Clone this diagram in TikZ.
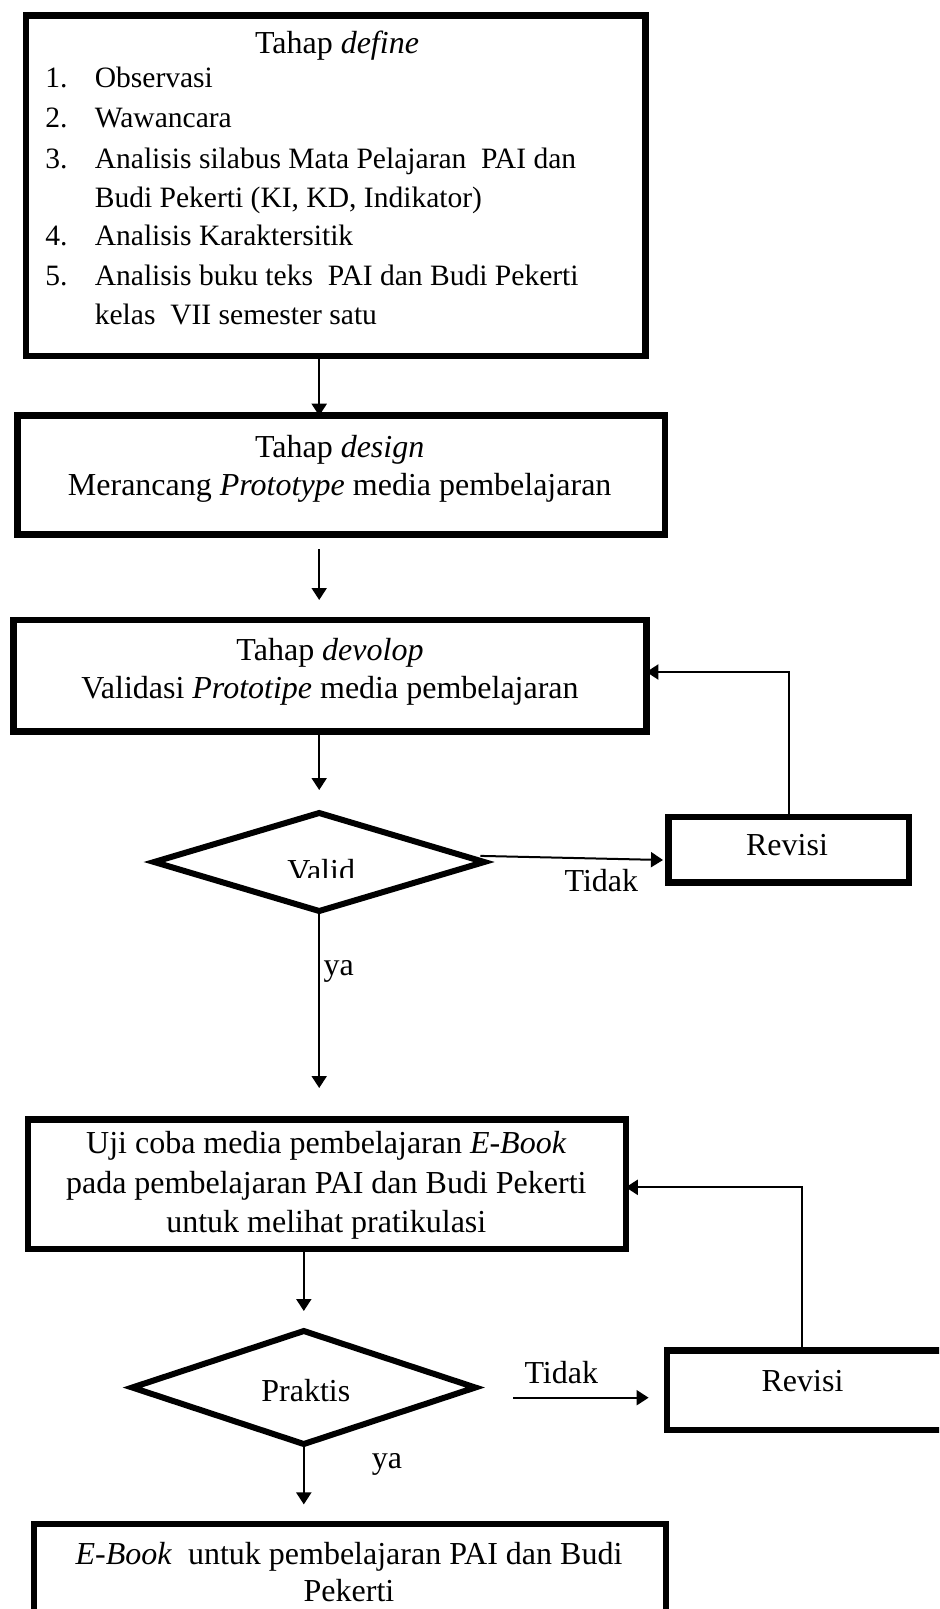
\documentclass[tikz,border=0pt]{standalone}
\usepackage{fontspec}
\setmainfont{Liberation Serif}
\usetikzlibrary{shapes.geometric,arrows.meta}
\begin{document}
\begin{tikzpicture}[x=0.5pt,y=-0.5pt,
  box/.style={draw,line width=3.25pt,inner sep=0pt,outer sep=0pt},
  dia/.style={draw,shape=diamond,line width=3pt,inner sep=0pt,outer sep=0pt},
  txt/.style={inner sep=0pt,text height=13pt,text depth=2pt,font=\fontsize{16}{19.7}\selectfont},
  ltxt/.style={txt,anchor=west,font=\fontsize{14.77}{19.7}\selectfont},
  conn/.style={line width=1pt,-{Triangle[length=6pt,width=7.5pt]}}]
\useasboundingbox (0,0) rectangle (939,1609);
\clip (0,0) rectangle (939,1609);

% boxes
\node[box,minimum width=309.75pt,minimum height=170.2pt] (b1) at (335.6,185.75) {};
\node[box,minimum width=323.55pt,minimum height=59.35pt] (b2) at (341.2,475.1) {};
\node[box,minimum width=316.4pt,minimum height=55.75pt] (b3) at (329.95,675.8) {};
\node[box,minimum width=120.25pt,minimum height=32.65pt] (r1) at (788.5,849.7) {};
\node[dia,minimum width=165pt,minimum height=49pt] (vd) at (319.2,862) {};
\node[box,minimum width=298.95pt,minimum height=64.75pt] (b4) at (326.8,1184) {};
\node[dia,minimum width=171.5pt,minimum height=56.5pt] (pd) at (303.8,1387.5) {};
\node[box,minimum width=156.6pt,minimum height=39.75pt] (r2) at (823.4,1390) {};
\node[box,minimum width=315.85pt,minimum height=77.9pt] (b5) at (349.9,1602.1) {};

% texts box 1
\node[txt] (t1) at (337,43) {Tahap \textit{define}};
\node[ltxt] (n1) at (45,77) {1.};
\node[ltxt] (i1) at (94.4,77) {Observasi};
\node[ltxt] (n2) at (45,117) {2.};
\node[ltxt] (i2) at (94.4,117) {Wawancara};
\node[ltxt] (n3) at (45,158) {3.};
\node[ltxt] (i3) at (94.4,158) {Analisis silabus Mata Pelajaran\ \ PAI dan};
\node[ltxt] (i3b) at (94.4,197) {Budi Pekerti (KI, KD, Indikator)};
\node[ltxt] (n4) at (45,235) {4.};
\node[ltxt] (i4) at (94.4,235) {Analisis Karaktersitik};
\node[ltxt] (n5) at (45,275) {5.};
\node[ltxt] (i5) at (94.4,275) {Analisis buku teks\ \ PAI dan Budi Pekerti};
\node[ltxt] (i5b) at (94.4,314) {kelas\ \ VII semester satu};

% texts box 2, 3
\node[txt] (t2a) at (339.7,446.4) {Tahap \textit{design}};
\node[txt] (t2b) at (339.7,484.4) {Merancang \textit{Prototype} media pembelajaran};
\node[txt] (t3a) at (330,649.6) {Tahap \textit{devolop}};
\node[txt] (t3b) at (330,687.6) {Validasi \textit{Prototipe} media pembelajaran};

% revisi / decisions
\node[txt] (tr1) at (787,844.6) {Revisi};
\begin{scope}
\clip (200,800) rectangle (440,877);
\node[txt] (tv) at (321.2,870) {Valid};
\end{scope}
\node[txt] (tt1) at (601.4,880.5) {Tidak};
\node[txt] (ty1) at (338.6,964.6) {ya};

% box 4
\node[txt] (t4a) at (326.3,1142.2) {Uji coba media pembelajaran \textit{E-Book}};
\node[txt] (t4b) at (326.3,1182.2) {pada pembelajaran PAI dan Budi Pekerti};
\node[txt] (t4c) at (326.3,1221.2) {untuk melihat pratikulasi};

\node[txt] (tp) at (305.8,1390.5) {Praktis};
\node[txt] (tt2) at (561.3,1372) {Tidak};
\node[txt] (tr2) at (802.5,1380.2) {Revisi};
\node[txt] (ty2) at (386.9,1457.2) {ya};

% box 5
\node[txt] (t5a) at (349,1553.7) {\textit{E-Book}\ \ untuk pembelajaran PAI dan Budi};
\node[txt] (t5b) at (349,1590.6) {Pekerti};

% coordinates for free ends
\coordinate (a2s) at (319.2,549);
\coordinate (a2e) at (319.2,600);
\coordinate (a3e) at (319.2,790);
\coordinate (f1) at (788.5,672);
\coordinate (t1s) at (480.3,855.9);
\coordinate (t1e) at (663,860);
\coordinate (a5e) at (319.2,1088);
\coordinate (a4e) at (303.8,1311);
\coordinate (f2) at (801.5,1187.3);
\coordinate (t2s) at (513,1397.7);
\coordinate (t2e) at (648.6,1397.7);
\coordinate (a6e) at (303.8,1504.4);

% connectors
\draw[conn] (b1.south -| vd.north) -- (b2.north -| vd.north);
\draw[conn] (a2s) -- (a2e);
\draw[conn] (b3.south -| a3e) -- (a3e);
\draw[conn] (r1.north) -- (f1) -- (f1 -| b3.east);
\draw[conn] (t1s) -- (t1e);
\draw[conn] (vd.south) -- (a5e);
\draw[conn] (b4.south -| a4e) -- (a4e);
\draw[conn] (f2 |- r2.north) -- (f2) -- (f2 -| b4.east);
\draw[conn] (t2s) -- (t2e);
\draw[conn] (pd.south) -- (a6e);
\end{tikzpicture}
\end{document}
